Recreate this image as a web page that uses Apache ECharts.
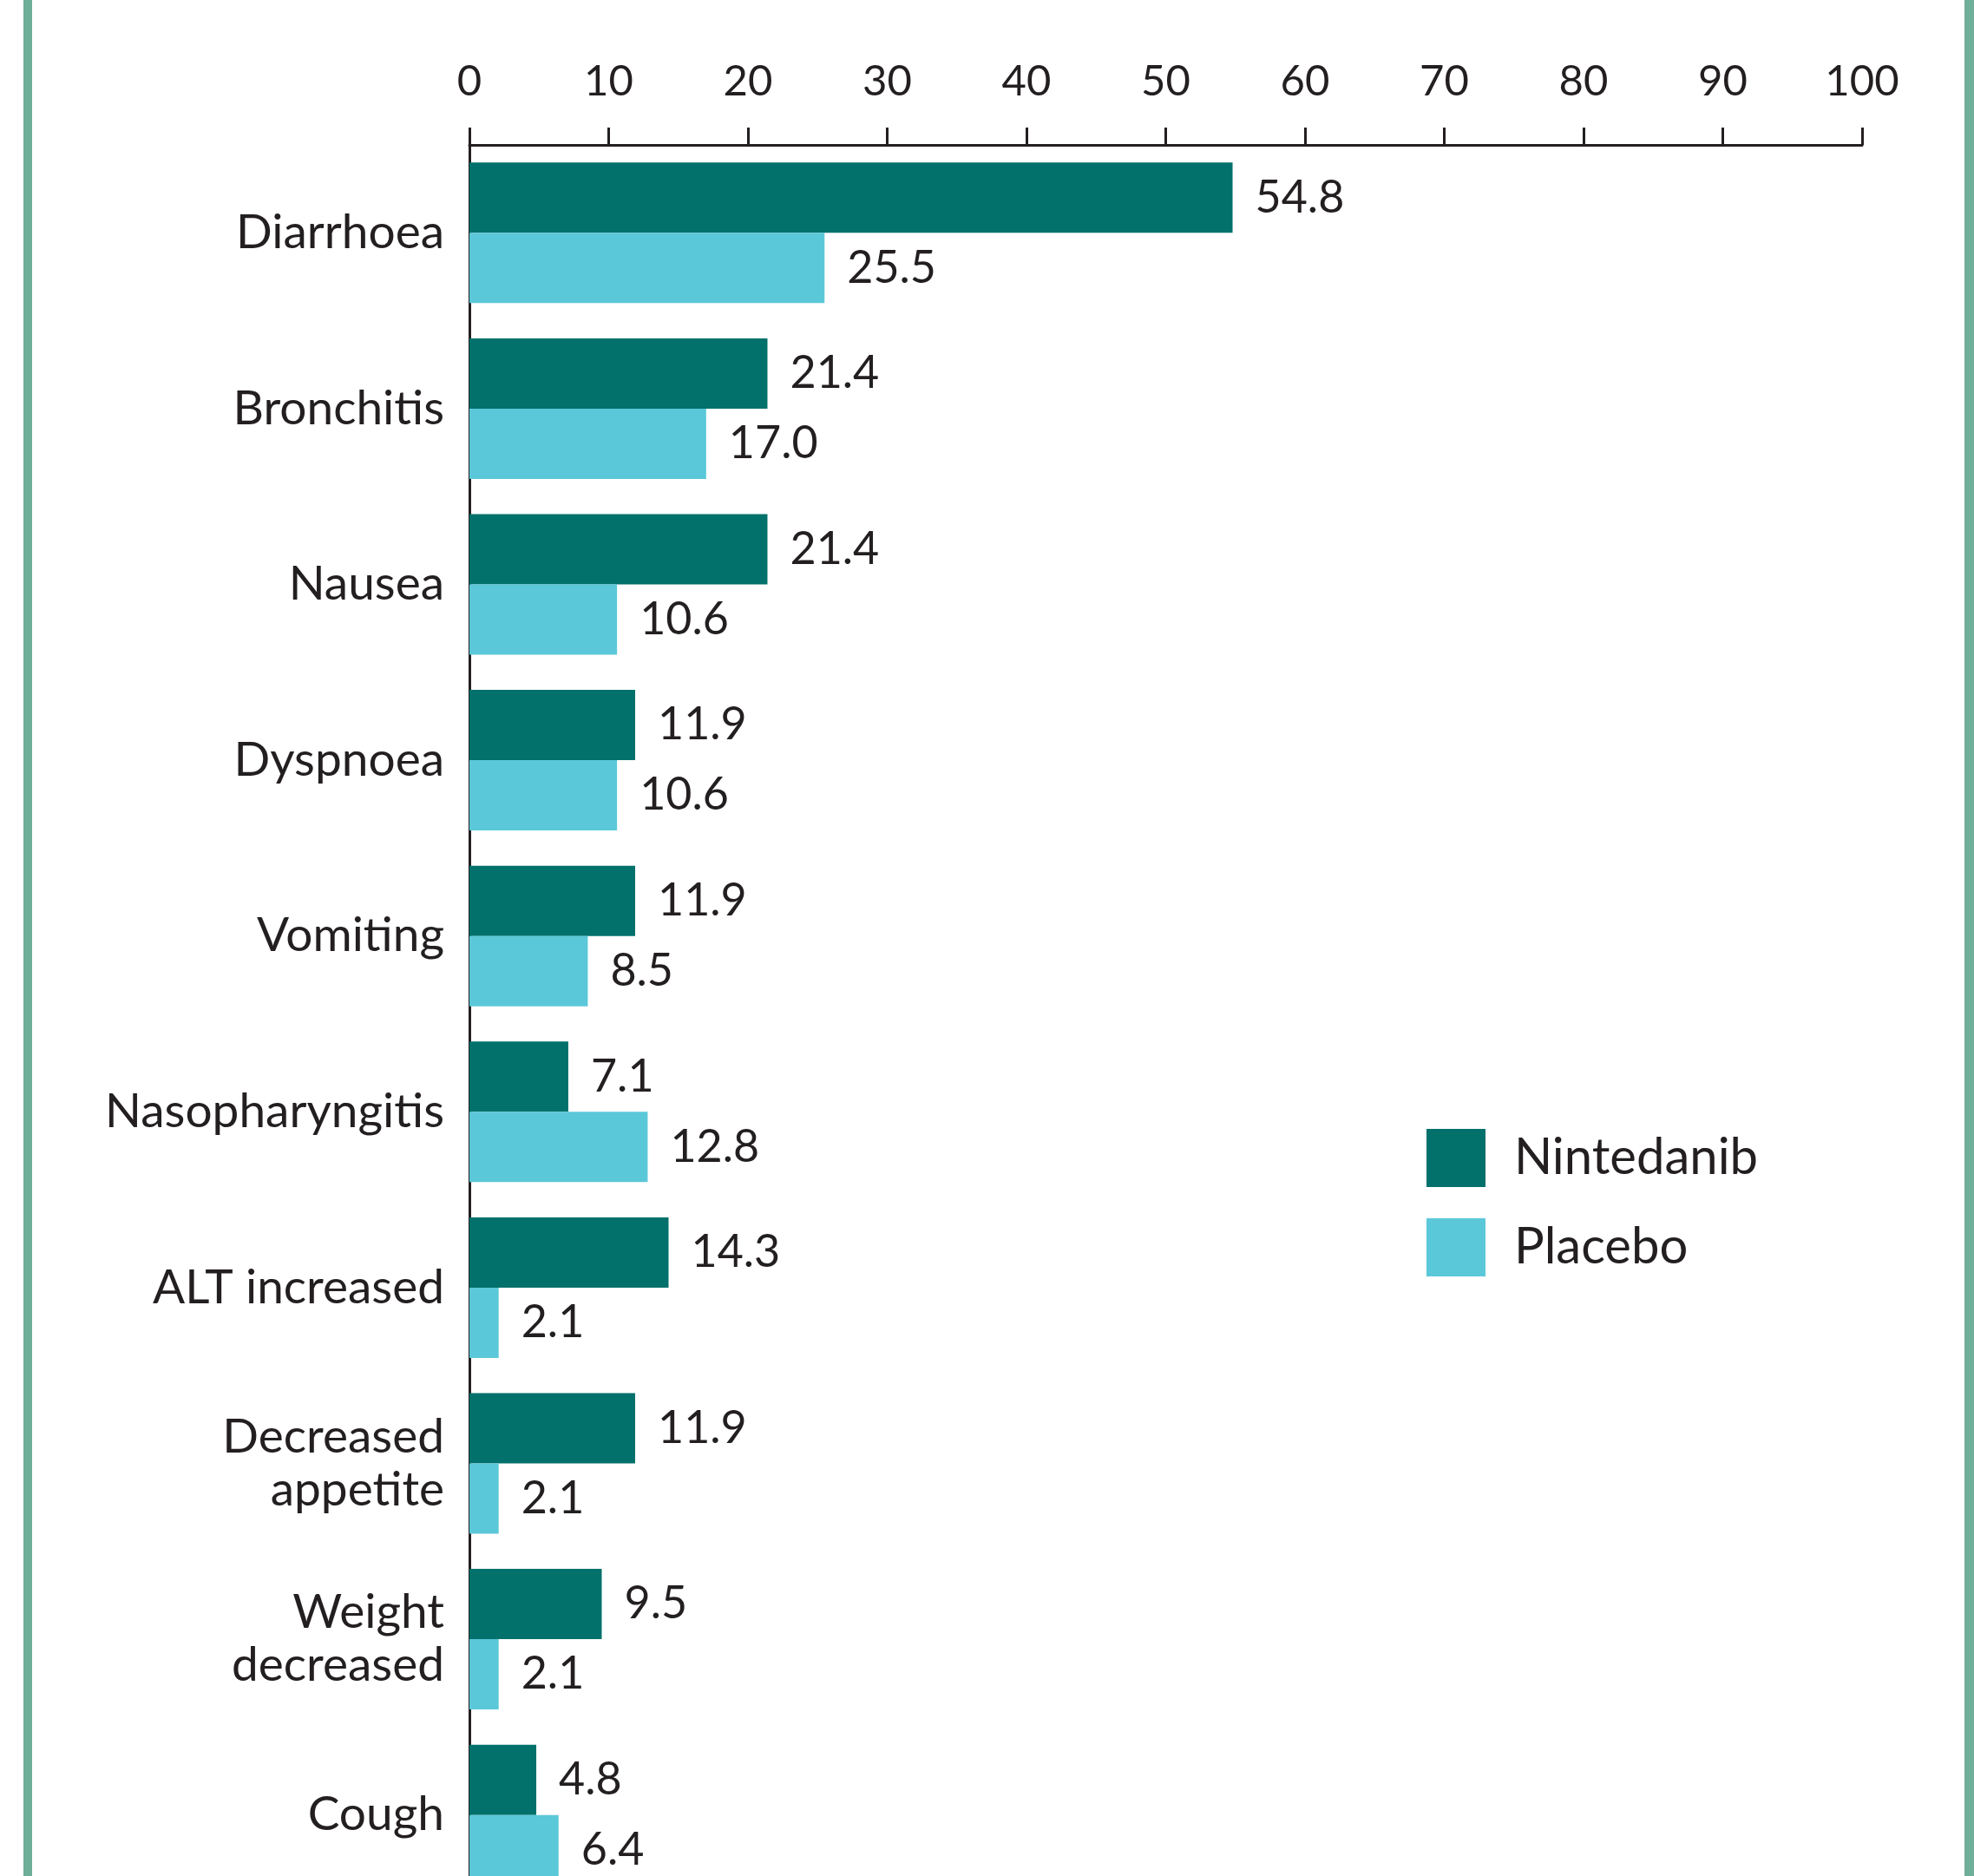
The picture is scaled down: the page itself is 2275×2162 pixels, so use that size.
<!DOCTYPE html>
<html>
<head>
<meta charset="utf-8">
<script src="https://cdn.jsdelivr.net/npm/echarts@6/dist/echarts.min.js"></script>
<style>
  html, body { margin: 0; padding: 0; background: #fff; }
  #chart { width: 2275px; height: 2162px; }
</style>
</head>
<body>
<div id="chart"></div>
<script>
  // categories, top to bottom
  var categories = ['Diarrhoea', 'Bronchitis', 'Nausea', 'Dyspnoea', 'Vomiting',
    'Nasopharyngitis', 'ALT increased', 'Decreased\nappetite', 'Weight\ndecreased', 'Cough'];
  var nintedanib = [54.8, 21.4, 21.4, 11.9, 11.9, 7.1, 14.3, 11.9, 9.5, 4.8];
  var placebo = [25.5, 17.0, 10.6, 10.6, 8.5, 12.8, 2.1, 2.1, 2.1, 6.4];
  var seriesNames = ['Nintedanib', 'Placebo'];
  var xTicks = [0, 10, 20, 30, 40, 50, 60, 70, 80, 90, 100];

  var textColor = '#231f20';
  var font = 'Lato, "Noto Sans", sans-serif';

  var chart = echarts.init(document.getElementById('chart'));

  var barLabel = {
    show: true,
    position: 'right',
    distance: 26,
    color: textColor,
    fontFamily: font,
    fontSize: 52,
    formatter: function (p) { return p.value.toFixed(1); }
  };

  chart.setOption({
    backgroundColor: '#ffffff',
    animation: false,
    // green side rules of the panel
    graphic: [
      { type: 'rect', shape: { x: 27, y: 0, width: 10, height: 2162 }, style: { fill: '#6fae98' } },
      { type: 'rect', shape: { x: 2264, y: 0, width: 11, height: 2162 }, style: { fill: '#6fae98' } }
    ],
    legend: {
      orient: 'vertical',
      left: 1644,
      top: 1301,
      padding: 0,
      itemWidth: 68,
      itemHeight: 67,
      itemGap: 36,
      icon: 'rect',
      textStyle: {
        color: textColor,
        fontFamily: font,
        fontSize: 58,
        padding: [0, 0, 0, 28]
      },
      data: seriesNames
    },
    grid: {
      left: 541,
      right: 129,
      top: 167,
      height: 2026,
      outerBoundsMode: 'none'
    },
    xAxis: {
      type: 'value',
      position: 'top',
      min: xTicks[0],
      max: xTicks[xTicks.length - 1],
      interval: 10,
      axisLine: { show: true, lineStyle: { color: textColor, width: 3 } },
      axisTick: { show: true, length: 20, lineStyle: { color: textColor, width: 3 } },
      axisLabel: {
        margin: 48,
        color: textColor,
        fontFamily: font,
        fontSize: 49
      },
      splitLine: { show: false }
    },
    yAxis: {
      type: 'category',
      inverse: true,
      data: categories,
      axisLine: { show: true, lineStyle: { color: textColor, width: 3 } },
      axisTick: { show: false },
      axisLabel: {
        margin: 29,
        color: textColor,
        fontFamily: font,
        fontSize: 55,
        lineHeight: 61,
        align: 'right'
      }
    },
    series: [{
      name: seriesNames[0],
      type: 'bar',
      barWidth: 81,
      barGap: '0%',
      itemStyle: { color: '#02706b' },
      label: barLabel,
      data: nintedanib
    }, {
      name: seriesNames[1],
      type: 'bar',
      barWidth: 81,
      barGap: '0%',
      itemStyle: { color: '#5bc8d9' },
      label: barLabel,
      data: placebo
    }]
  });
</script>
</body>
</html>
